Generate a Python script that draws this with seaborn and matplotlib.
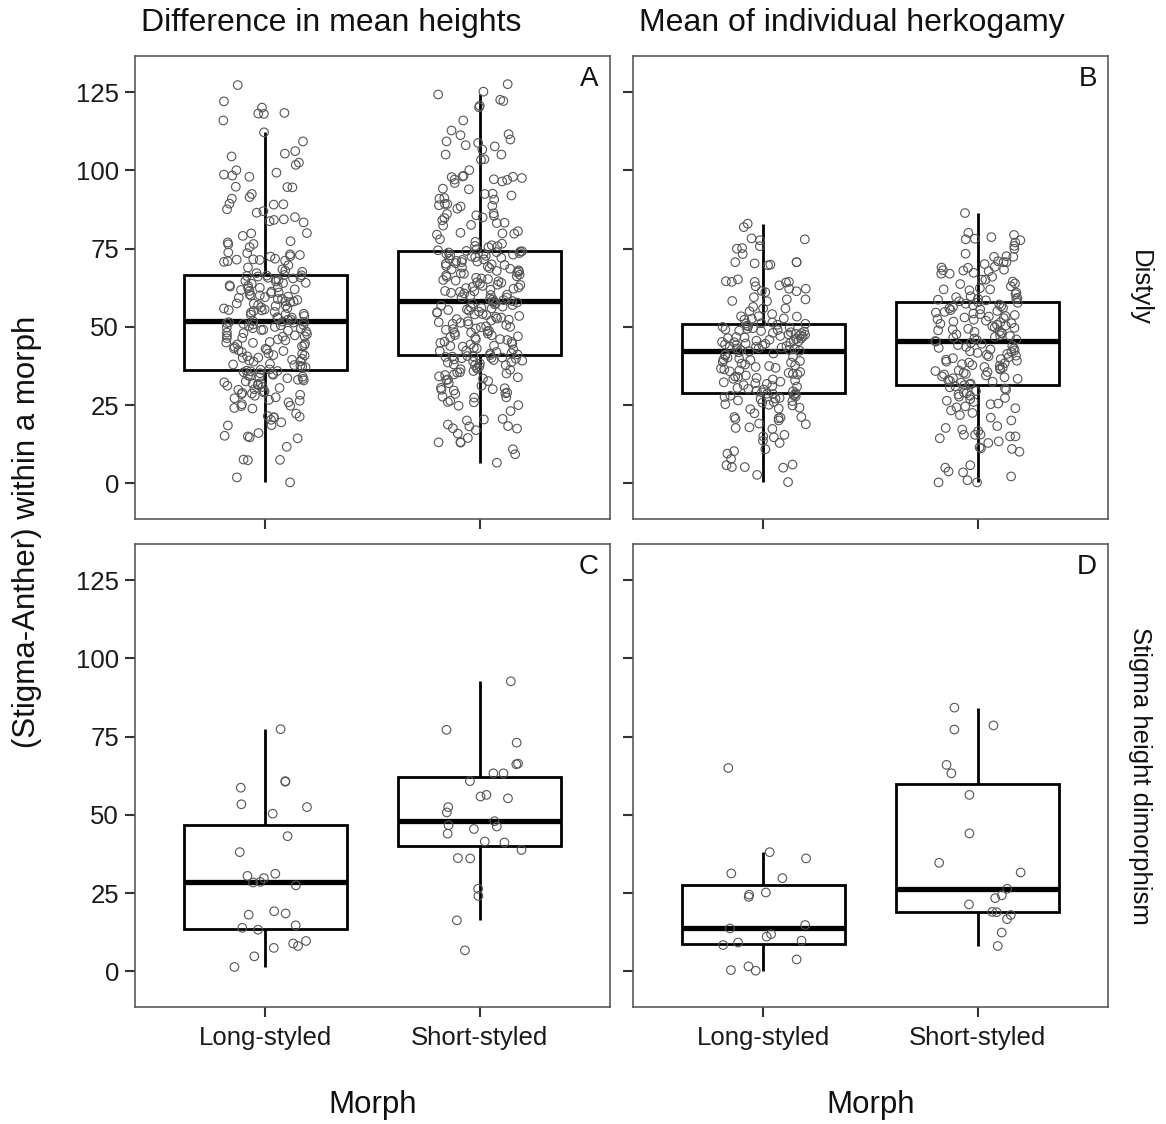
import numpy as np
import pandas as pd
import matplotlib
matplotlib.use("Agg")
import matplotlib.pyplot as plt
import seaborn as sns

# ---------------------------------------------------------------------------
# Data: (stigma - anther) separation within a morph
# ---------------------------------------------------------------------------
morphs = ["Long-styled", "Short-styled"]
measures = ["Difference in mean heights", "Mean of individual herkogamy"]
systems = ["Distyly", "Stigma height dimorphism"]
panel_letters = ["A", "B", "C", "D"]
y_ticks = [0, 25, 50, 75, 100, 125]

# Distyly - difference in mean heights
dist_diff_long = [
    127.3, 122.1, 120.1, 118.4, 118.2, 118.1, 116.0, 112.2, 109.3, 106.2,
    105.4, 104.5, 102.5, 101.8, 100.1, 99.3, 98.7, 98.4, 98.0, 94.8,
    94.7, 94.6, 92.5, 91.5, 91.0, 89.4, 89.2, 89.1, 87.6, 87.0,
    86.5, 85.1, 84.4, 84.2, 83.8, 83.4, 80.0, 79.9, 79.1, 77.4,
    77.0, 76.5, 76.4, 75.5, 73.8, 73.6, 73.2, 73.0, 72.6, 72.5,
    71.8, 71.6, 71.5, 71.4, 71.2, 71.0, 70.8, 69.7, 69.0, 68.4,
    68.0, 67.6, 67.2,
    51.9, 52.2, 52.3, 52.8, 53.0, 53.1, 53.5, 53.9, 54.0, 54.2,
    54.6, 54.8, 55.1, 55.3, 55.4, 55.9, 56.0, 56.3, 56.7, 56.8,
    57.0, 57.4, 57.5, 57.9, 58.1, 58.2, 58.6, 58.9, 59.0, 59.3,
    59.7, 60.0, 60.1, 60.4, 60.8, 61.0, 61.3, 61.5, 61.8, 62.0,
    62.4, 62.5, 62.9, 63.1, 63.3, 63.8, 64.0, 64.1, 64.5, 64.7,
    65.0, 65.2, 65.5, 65.7, 65.9, 66.1, 66.3, 66.4, 66.5, 66.6,
    55.6, 59.5, 62.7,
    36.3, 36.4, 37.1, 37.3, 37.8, 38.0, 38.2, 38.9, 39.0, 39.3,
    39.8, 40.1, 40.2, 40.9, 41.0, 41.4, 41.5, 42.0, 42.3, 42.7,
    43.0, 43.1, 43.6, 43.8, 44.1, 44.7, 44.9, 45.0, 45.2, 45.7,
    46.0, 46.4, 46.5, 46.9, 47.2, 47.3, 47.7, 48.0, 48.2, 48.5,
    48.8, 49.0, 49.1, 49.5, 49.6, 49.8, 50.0, 50.3, 50.5, 50.6,
    50.8, 51.0, 51.2, 51.4, 51.5, 51.6, 51.7, 37.6, 39.5, 42.5,
    44.4, 47.0, 40.6,
    0.3, 1.9, 7.4, 7.5, 7.6, 11.7, 14.4, 14.7, 15.0, 15.2,
    16.1, 18.5, 18.6, 19.5, 20.3, 21.1, 21.1, 21.3, 21.5, 22.3,
    23.9, 24.1, 24.7, 24.8, 25.3, 25.9, 26.4, 26.7, 27.2, 27.5,
    28.0, 28.3, 28.5, 28.9, 29.1, 29.4, 29.9, 30.1, 30.5, 30.8,
    31.2, 31.4, 31.7, 32.0, 32.3, 32.6, 32.9, 33.1, 33.4, 33.6,
    33.9, 34.1, 34.5, 34.7, 35.0, 35.2, 35.5, 35.8, 35.9, 36.0,
    28.7, 31.9, 34.3,
]
dist_diff_short = [
    127.6, 125.2, 124.3, 122.6, 120.7, 122.2, 120.2, 116.0, 111.6, 112.8,
    111.3, 108.8, 109.9, 109.3, 108.1, 106.7, 107.7, 105.1, 105.1, 103.6,
    103.4, 100.1, 98.3, 98.0, 97.6, 97.9, 96.0, 97.2, 96.5, 97.0,
    98.1, 97.1, 94.2, 94.0, 92.5, 92.0, 91.0, 91.2, 92.6, 90.7,
    89.3, 89.3, 88.9, 88.7, 88.5, 87.8, 86.3, 86.1, 85.0, 84.8,
    84.1, 85.5, 83.3, 85.7, 82.6, 83.2, 82.4, 80.1, 79.8, 80.6,
    78.0, 79.5, 79.9, 77.2, 76.6, 76.1, 75.9, 75.8, 75.5, 74.5,
    74.8,
    58.3, 58.6, 58.8, 59.0, 59.4, 59.5, 59.9, 60.2, 60.3, 60.7,
    60.9, 61.2, 61.4, 61.5, 61.9, 62.2, 62.4, 62.6, 62.8, 63.1,
    63.4, 63.5, 63.8, 64.1, 64.3, 64.6, 64.8, 65.0, 65.3, 65.5,
    65.7, 66.0, 66.2, 66.5, 66.7, 67.0, 67.1, 67.4, 67.7, 67.9,
    68.1, 68.4, 68.6, 68.8, 69.0, 69.3, 69.5, 69.8, 70.0, 70.2,
    70.4, 70.7, 70.9, 71.1, 71.4, 71.6, 71.8, 72.1, 72.3, 72.5,
    72.7, 72.9, 73.1, 73.3, 73.4, 73.6, 73.8, 73.9, 74.1, 74.2,
    74.3,
    41.0, 41.2, 41.5, 41.6, 42.0, 42.3, 42.4, 42.8, 43.1, 43.3,
    43.7, 43.9, 44.0, 44.4, 44.6, 44.9, 45.2, 45.3, 45.8, 46.0,
    46.1, 46.5, 46.7, 47.0, 47.3, 47.4, 47.9, 48.1, 48.2, 48.6,
    48.8, 49.1, 49.3, 49.5, 49.9, 50.0, 50.2, 50.6, 50.9, 51.0,
    51.3, 51.5, 51.8, 52.0, 52.3, 52.5, 52.7, 53.0, 53.2, 53.5,
    53.8, 54.0, 54.1, 54.5, 54.7, 54.9, 55.2, 55.4, 55.6, 55.9,
    56.1, 56.3, 56.5, 56.8, 57.0, 57.2, 57.4, 57.6, 57.8, 58.0,
    58.1,
    6.6, 9.3, 10.9, 13.0, 13.1, 13.2, 14.5, 15.9, 17.0, 17.5,
    17.6, 18.2, 18.3, 18.8, 20.1, 20.4, 20.6, 23.1, 24.8, 25.0,
    25.9, 26.0, 26.4, 27.4, 27.5, 27.7, 28.6, 28.8, 29.0, 29.7,
    29.9, 30.1, 30.4, 30.5, 31.2, 32.0, 32.7, 33.0, 33.2, 33.5,
    33.9, 34.2, 34.6, 34.8, 35.1, 35.4, 35.5, 35.9, 36.3, 36.5,
    36.6, 37.0, 37.4, 37.7, 37.8, 38.0, 38.3, 38.6, 38.7, 39.0,
    39.2, 39.4, 39.6, 39.8, 40.0, 40.1, 40.2, 40.4, 40.5, 40.6,
    40.7,
]

# Distyly - mean of individual herkogamy
dist_herk_long = [
    83.0, 81.9, 78.3, 78.0, 77.7, 75.8, 75.2, 75.0, 73.3, 70.7,
    70.7, 70.7, 70.3, 69.9, 69.7, 65.2, 64.6, 64.4, 64.4, 64.4,
    64.2, 63.3, 63.0, 62.2, 62.2, 61.5, 61.4, 61.1, 59.5, 58.8,
    58.8, 58.3, 58.2, 56.4, 55.9, 55.9, 55.0, 54.1, 53.4, 53.4,
    53.3, 52.7, 52.6, 52.3, 51.4, 51.2, 51.0, 51.1,
    42.4, 42.6, 42.7, 42.9, 43.1, 43.2, 43.4, 43.6, 43.7, 43.9,
    44.1, 44.2, 44.4, 44.6, 44.7, 44.9, 45.1, 45.2, 45.4, 45.6,
    45.8, 45.9, 46.1, 46.3, 46.4, 46.6, 46.8, 46.9, 47.1, 47.3,
    47.5, 47.6, 47.8, 48.0, 48.1, 48.3, 48.5, 48.7, 48.8, 49.0,
    49.2, 49.4, 49.6, 49.8, 50.0, 50.2, 50.4, 50.7,
    28.8, 29.1, 29.4, 29.6, 30.0, 30.2, 30.5, 30.9, 31.1, 31.4,
    31.8, 32.0, 32.3, 32.5, 32.9, 33.2, 33.4, 33.7, 34.0, 34.1,
    34.5, 34.8, 35.0, 35.3, 35.6, 35.8, 36.1, 36.4, 36.7, 36.9,
    37.2, 37.5, 37.7, 38.0, 38.3, 38.6, 38.8, 39.1, 39.4, 39.6,
    39.9, 40.2, 40.5, 40.8, 41.1, 41.5, 41.9, 42.2,
    0.4, 2.7, 5.0, 5.2, 5.2, 5.8, 6.0, 7.8, 9.5, 10.3,
    10.9, 12.9, 13.6, 14.7, 15.0, 15.5, 17.4, 17.7, 17.9, 18.9,
    19.1, 20.1, 20.6, 20.8, 21.0, 21.2, 21.2, 22.4, 23.7, 23.9,
    24.2, 24.9, 25.1, 25.3, 25.8, 26.0, 26.3, 26.5, 26.9, 27.1,
    27.3, 27.6, 27.8, 28.0, 28.1, 28.3, 28.5, 28.6,
]
dist_herk_short = [
    86.4, 80.1, 79.4, 78.7, 78.2, 78.0, 77.7, 77.0, 75.9, 75.0,
    73.4, 72.6, 72.4, 72.4, 71.0, 70.7, 70.7, 70.1, 69.2, 69.0,
    68.9, 68.3, 68.1, 68.0, 67.8, 67.3, 67.0, 67.0, 66.0, 65.1,
    65.1, 64.5, 63.9, 63.7, 63.0, 62.4, 62.0, 62.0, 61.7, 61.0,
    60.5, 59.8, 59.5, 59.3, 59.0, 58.9, 58.7, 58.5, 58.2,
    45.5, 45.8, 46.0, 46.3, 46.6, 46.8, 47.1, 47.3, 47.6, 47.9,
    48.1, 48.4, 48.6, 48.9, 49.2, 49.4, 49.7, 49.9, 50.2, 50.4,
    50.7, 51.0, 51.2, 51.5, 51.7, 52.0, 52.3, 52.5, 52.8, 53.0,
    53.3, 53.5, 53.8, 54.1, 54.3, 54.6, 54.8, 55.1, 55.4, 55.6,
    55.9, 56.1, 56.4, 56.6, 56.9, 57.2, 57.4, 57.7, 57.9,
    31.6, 31.9, 32.2, 32.5, 32.8, 33.0, 33.4, 33.6, 33.9, 34.2,
    34.5, 34.8, 35.0, 35.3, 35.6, 35.9, 36.1, 36.4, 36.7, 37.0,
    37.2, 37.6, 37.8, 38.1, 38.4, 38.6, 38.9, 39.2, 39.5, 39.7,
    40.0, 40.3, 40.6, 40.8, 41.1, 41.4, 41.7, 42.0, 42.2, 42.5,
    42.8, 43.1, 43.3, 43.6, 43.9, 44.2, 44.6, 44.9, 45.3,
    0.3, 0.3, 1.0, 2.2, 3.5, 3.8, 5.0, 5.8, 10.1, 11.0,
    11.2, 11.5, 12.9, 13.4, 14.4, 15.0, 15.0, 15.5, 15.5, 15.6,
    16.7, 17.2, 17.7, 18.3, 20.1, 21.0, 21.8, 22.5, 23.3, 24.0,
    24.3, 24.6, 25.3, 25.5, 26.0, 26.4, 26.9, 27.3, 27.7, 28.0,
    28.4, 28.8, 29.1, 29.5, 29.9, 30.3, 30.7, 31.0, 31.4,
]

# Stigma height dimorphism
shd_diff_long = [77.4, 60.6, 60.8, 58.7, 53.4, 52.5, 50.4, 43.2, 38.1, 31.2,
                 30.5, 29.8, 28.6, 27.5, 28.4, 18.5, 18.1, 19.2, 14.7, 13.9,
                 13.3, 9.7, 8.9, 8.1, 7.5, 4.8, 1.4]
shd_diff_short = [92.7, 77.2, 73.1, 66.2, 66.4, 63.3, 63.3, 60.8, 55.3, 56.4,
                  55.9, 52.5, 50.8, 48.0, 46.7, 46.3, 45.5, 44.0, 41.5, 41.2,
                  38.8, 36.2, 36.1, 26.4, 24.1, 16.3, 6.7]
shd_herk_long = [65.0, 38.1, 36.1, 31.3, 29.8, 25.2, 23.8, 24.5, 14.8, 13.7,
                 11.9, 11.1, 9.8, 9.2, 8.4, 3.8, 1.6, 0.2, 0.4]
shd_herk_short = [84.3, 77.3, 78.6, 66.0, 63.3, 56.4, 44.1, 34.7, 31.6, 26.4,
                  24.3, 23.4, 21.4, 19.0, 16.7, 18.9, 18.0, 12.4, 8.1]

series = {
    (systems[0], measures[0]): (dist_diff_long, dist_diff_short),
    (systems[0], measures[1]): (dist_herk_long, dist_herk_short),
    (systems[1], measures[0]): (shd_diff_long, shd_diff_short),
    (systems[1], measures[1]): (shd_herk_long, shd_herk_short),
}

rows = []
for (system, measure), (long_vals, short_vals) in series.items():
    for morph, vals in zip(morphs, (long_vals, short_vals)):
        for v in vals:
            rows.append({"system": system, "measure": measure, "morph": morph, "value": v})
df = pd.DataFrame(rows)

# ---------------------------------------------------------------------------
# Figure
# ---------------------------------------------------------------------------
sns.set_theme(style="white")
plt.rcParams["font.family"] = ["Liberation Sans", "DejaVu Sans"]

W, H = 1166, 1124
fig, axes = plt.subplots(2, 2, figsize=(W / 100, H / 100), dpi=100)
fig.subplots_adjust(left=135 / W, right=1108 / W, top=1 - 56 / H, bottom=1 - 1007 / H,
                    wspace=0.05, hspace=0.054)

np.random.seed(11)
for i, system in enumerate(systems):
    for j, measure in enumerate(measures):
        ax = axes[i, j]
        sub = df[(df["system"] == system) & (df["measure"] == measure)]
        sns.boxplot(data=sub, x="morph", y="value", order=morphs, ax=ax,
                    color="white", linecolor="black", linewidth=2.0, width=0.76,
                    showfliers=False, showcaps=False,
                    medianprops={"linewidth": 3.8, "color": "black"})
        sns.stripplot(data=sub, x="morph", y="value", order=morphs, ax=ax,
                      jitter=0.2, size=6.2, color="white", edgecolor="#555555",
                      linewidth=0.8)
        for coll in ax.collections:
            coll.set_facecolor("none")
            coll.set_edgecolor("#555555")
            coll.set_linewidth(0.8)

        ax.set_xlim(-0.607, 1.607)
        ax.set_ylim(-11.4, 136.6)
        ax.set_yticks(y_ticks)
        ax.set_xlabel("")
        ax.set_ylabel("")
        for sp in ax.spines.values():
            sp.set_visible(True)
            sp.set_color("#5a5a5a")
            sp.set_linewidth(1.2)
        ax.tick_params(axis="both", which="major", direction="out", length=7.5,
                       width=1.5, color="#333333", labelsize=18.5, pad=4,
                       labelcolor="#1a1a1a", left=True, bottom=True)
        ax.tick_params(axis="x", pad=6)
        if i == 0:
            ax.tick_params(axis="x", labelbottom=False)
        if j == 1:
            ax.tick_params(axis="y", labelleft=False)
        ax.text(0.977, 0.978, panel_letters[2 * i + j], transform=ax.transAxes,
                ha="right", va="top", fontsize=20, color="#111111")

# Column headings, left-aligned with each panel column
for j, measure in enumerate(measures):
    x0 = axes[0, j].get_position().x0
    fig.text(x0 + 6 / W, 1 - 23 / H, measure, ha="left", va="center", fontsize=23,
             color="#111111")

# Row strips on the right, centred on each panel row
for i, system in enumerate(systems):
    pos = axes[i, 1].get_position()
    fig.text(1140 / W, (pos.y0 + pos.y1) / 2, system, rotation=-90, ha="center",
             va="center", fontsize=18.5, color="#111111")

# Shared y label and per-column x labels
top_pos, bot_pos = axes[0, 0].get_position(), axes[1, 0].get_position()
fig.text(27 / W, (top_pos.y1 + bot_pos.y0) / 2, "(Stigma-Anther) within a morph",
         rotation=90, ha="center", va="center", fontsize=22.5, color="#111111")
for j in range(2):
    pos = axes[1, j].get_position()
    fig.text((pos.x0 + pos.x1) / 2, 1 - 1105 / H, "Morph", ha="center", va="center",
             fontsize=22.5, color="#111111")

fig.savefig("out.png", dpi=100, facecolor="white")
